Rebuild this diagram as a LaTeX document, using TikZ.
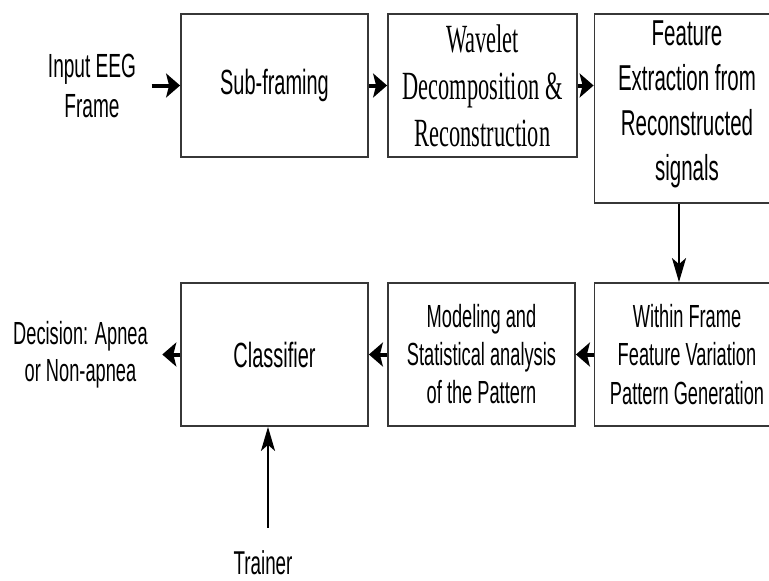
\documentclass[tikz,border=0pt]{standalone}
\usepackage{fontspec}
\setmainfont{Liberation Sans}[FakeStretch=0.57]
\newfontfamily\serifNarrow{Liberation Serif}[FakeStretch=0.56]
\usepackage{tikz}
\usetikzlibrary{positioning,arrows.meta}
\definecolor{lineGray}{RGB}{55,55,55}
\tikzset{
    blockBox/.style={draw=lineGray,line width=1.8pt,align=center,inner sep=0pt,
                     minimum width=187pt,minimum height=143pt},
    hArrow/.style={line width=4pt,-{Stealth[length=14pt,width=24pt,inset=3pt]}},
    vArrow/.style={line width=2.2pt,-{Stealth[length=24pt,width=14pt,inset=6pt]}}
}
\begin{document}
\begin{tikzpicture}[x=1pt,y=-1pt]
                \useasboundingbox (0,0) rectangle (769,581);
                % top row
                \node[blockBox,font=\fontsize{35}{40}\selectfont] (sub) at (274.5,85.5) {Sub-framing};
                \node[blockBox,minimum width=189pt,font=\serifNarrow\fontsize{40}{47}\selectfont]
                    (wav) at (482.5,85.5) {Wavelet\\Decomposition \&\\Reconstruction};
                \node[blockBox,minimum width=185pt,minimum height=189pt,text depth=16pt,
                      font=\fontsize{36}{45}\selectfont]
                    (feat) at (687,108.5) {Feature\\Extraction from\\Reconstructed\\signals};
                % bottom row
                \node[blockBox,minimum width=185pt,font=\fontsize{32}{38.5}\selectfont]
                    (within) at (687,354.5) {Within Frame\\Feature Variation\\Pattern Generation};
                \node[blockBox,font=\fontsize{32}{38}\selectfont]
                    (model) at (481.5,354.5) {Modeling and\\Statistical analysis\\of the Pattern};
                \node[blockBox,font=\fontsize{35}{40}\selectfont] (cls) at (274.5,354.5) {Classifier};
                % free labels
                \node[font=\fontsize{33.5}{40}\selectfont,align=center] (input) at (92,85.5) {Input EEG\\Frame};
                \node[font=\fontsize{32}{37}\selectfont,align=center] (decision) at (80.5,354.5) {Decision: Apnea\\or Non-apnea};
                \node[font=\fontsize{33}{40}\selectfont,inner sep=1pt] (trainer) at (263,563) {Trainer};
                % connectors
                \draw[hArrow,shorten <=12pt] (input) -- (sub);
                \draw[hArrow] (sub) -- (wav);
                \draw[hArrow] (wav) -- (feat.west |- wav.east);
                \draw[vArrow] ([xshift=-8pt]feat.south) -- ([xshift=-8pt]within.north);
                \draw[hArrow] (within) -- (model);
                \draw[hArrow] (model) -- (cls);
                \draw[hArrow,shorten >=11pt] (cls) -- (decision);
                \draw[vArrow,shorten <=22pt] ([xshift=5pt]trainer.north) -- ([xshift=-6.5pt]cls.south);
            \end{tikzpicture}
\end{document}
